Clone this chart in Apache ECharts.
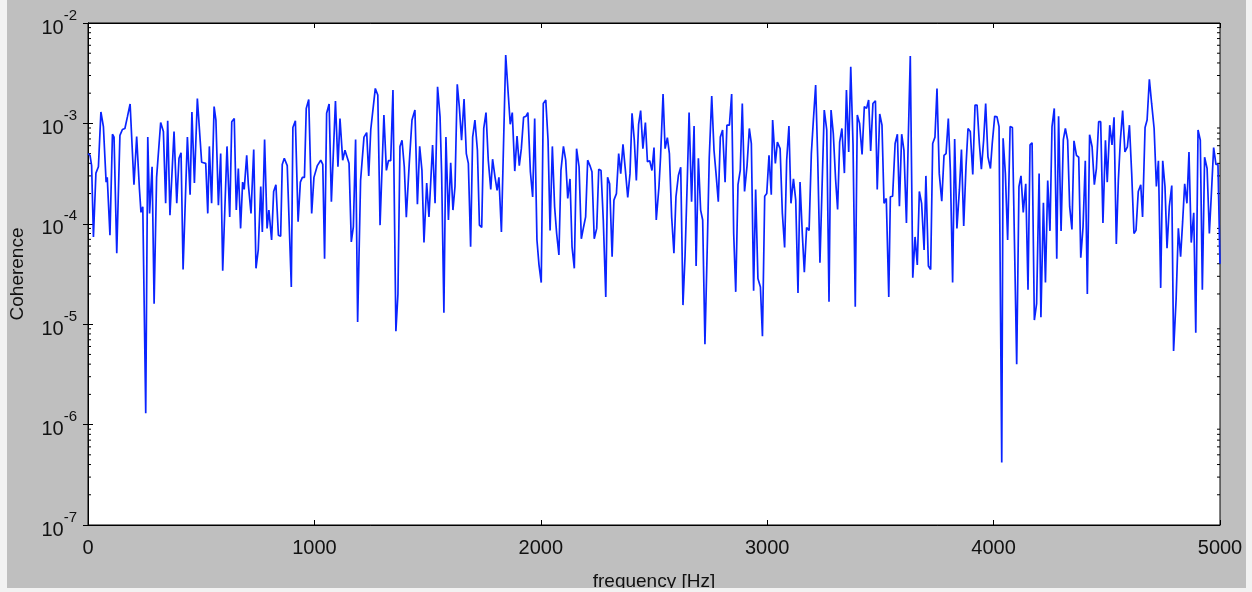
<!DOCTYPE html>
<html>
<head>
<meta charset="utf-8">
<script src="https://cdn.jsdelivr.net/npm/echarts@6/dist/echarts.min.js"></script>
<style>
  html, body { margin: 0; padding: 0; background: #ffffff; }
  #chart { width: 1252px; height: 592px; }
</style>
</head>
<body>
<div id="chart"></div>
<script>
// Coherence spectrum: frequency [Hz] and coherence value at each sample
const freq = [
  0, 9, 16, 24, 35, 46, 57, 68, 80, 85, 97, 108, 115, 127, 141, 152, 163, 174, 186, 203,
  215, 227, 234, 242, 255, 264, 272, 283, 292, 303, 321, 333, 343, 352, 362, 380, 392, 402, 411, 420,
  439, 451, 459, 470, 483,
  502, 520, 529, 536, 546, 557, 565, 576, 586, 595, 614, 626, 635, 646, 655, 664, 674, 683, 690, 701,
  708, 720, 732, 742, 752, 763, 770, 780, 791, 799, 811, 820, 830, 841, 851, 858, 867, 880, 898, 905,
  916, 928, 938, 947, 956, 964, 975,
  988, 998, 1013, 1028, 1037, 1045, 1054, 1065, 1075, 1093, 1104, 1113, 1125, 1135, 1143, 1153, 1163, 1172, 1182, 1191,
  1204, 1219, 1231, 1240, 1249, 1257, 1269, 1280, 1290, 1307, 1318, 1327, 1337, 1347, 1360, 1369, 1378, 1387, 1397, 1406,
  1419, 1431, 1444, 1455, 1465, 1475, 1484,
  1496, 1506, 1522, 1533, 1544, 1555, 1562, 1572, 1581, 1592, 1602, 1612, 1621, 1631, 1640, 1650, 1661, 1671, 1680, 1690,
  1699, 1709, 1720, 1729, 1739, 1748, 1758, 1768, 1779, 1787, 1798, 1807, 1815, 1826, 1845, 1857, 1865, 1874, 1885, 1895,
  1905, 1914, 1924, 1935, 1943, 1954, 1964, 1973, 1983, 1992, 2002,
  2011, 2022, 2032, 2041, 2051, 2061, 2070, 2080, 2089, 2100, 2110, 2119, 2129, 2138, 2148, 2158, 2169, 2179, 2189, 2198,
  2207, 2217, 2226, 2236, 2247, 2256, 2266, 2276, 2287, 2295, 2304, 2315, 2323, 2334, 2344, 2353, 2363, 2373, 2384, 2394,
  2403, 2413, 2422, 2432, 2441, 2451, 2462, 2471, 2481, 2491, 2500, 2510,
  2522, 2529, 2540, 2549, 2559, 2568, 2578, 2588, 2597, 2608, 2618, 2628, 2637, 2647, 2655, 2666, 2677, 2686, 2696, 2706,
  2715, 2725, 2736, 2744, 2755, 2765, 2774, 2784, 2793, 2803, 2814, 2822, 2833, 2843, 2852, 2861, 2871, 2881, 2890, 2900,
  2911, 2921, 2930, 2940, 2949, 2959, 2970, 2979, 2989, 2998, 3008, 3018, 3024,
  3036, 3045, 3057, 3067, 3077, 3086, 3096, 3105, 3116, 3126, 3136, 3145, 3155, 3164, 3174, 3185, 3195, 3204, 3214, 3223,
  3233, 3244, 3252, 3263, 3273, 3282, 3292, 3302, 3311, 3320, 3330, 3341, 3350, 3360, 3369, 3379, 3389, 3398, 3408, 3419,
  3429, 3439, 3448, 3457, 3467, 3478, 3486, 3497, 3507, 3516, 3526,
  3537, 3544, 3554, 3565, 3575, 3584, 3594, 3604, 3615, 3623, 3632, 3643, 3653, 3663, 3672, 3682, 3693, 3701, 3712, 3722,
  3731, 3741, 3750, 3760, 3771, 3781, 3790, 3800, 3809, 3819, 3828, 3838, 3849, 3858, 3868, 3878, 3887, 3897, 3908, 3918,
  3927, 3937, 3946, 3956, 3965, 3975, 3986, 3994, 4005, 4015, 4024, 4036,
  4042, 4052, 4062, 4073, 4083, 4092, 4102, 4112, 4121, 4131, 4142, 4152, 4161, 4170, 4180, 4190, 4201, 4209, 4220, 4229,
  4239, 4249, 4258, 4268, 4279, 4287, 4298, 4308, 4317, 4327, 4336, 4346, 4355, 4366, 4376, 4385, 4395, 4405, 4414, 4424,
  4435, 4445, 4454, 4464, 4473, 4483, 4494, 4502, 4513, 4523, 4532, 4542,
  4551, 4560, 4570, 4580, 4591, 4600, 4610, 4620, 4629, 4639, 4650, 4658, 4669, 4678, 4688, 4698, 4709, 4719, 4728, 4738,
  4747, 4757, 4766, 4776, 4787, 4795, 4806, 4816, 4826, 4835, 4844, 4854, 4863, 4873, 4884, 4893, 4903, 4913, 4922, 4932,
  4943, 4953, 4962, 4972, 4982, 4991, 5000
];

const coherence = [
  5.0e-4, 4.8e-4, 3.8e-4, 7.4e-5, 3.2e-4, 3.7e-4, 1.3e-3, 9.3e-4, 2.6e-4, 2.9e-4, 7.7e-5, 7.8e-4, 7.3e-4, 5.1e-5, 7.6e-4, 8.7e-4, 8.9e-4, 1.16e-3, 1.56e-3, 2.45e-4,
  7.4e-4, 2.25e-4, 1.3e-4, 1.48e-4, 1.3e-6, 7.3e-4, 1.27e-4, 3.7e-4, 1.6e-5, 2.9e-4, 1.02e-3, 8.3e-4, 1.6e-4, 1.06e-3, 1.22e-4, 8.3e-4, 1.6e-4, 4.5e-4, 5.1e-4, 3.5e-5,
  7.3e-4, 1.95e-4, 1.3e-3, 2.55e-4, 1.77e-3,
  4.1e-4, 4.0e-4, 1.27e-4, 5.9e-4, 1.6e-4, 1.47e-3, 1.08e-3, 1.53e-4, 5.0e-4, 3.4e-5, 5.9e-4, 1.17e-4, 1.04e-3, 1.12e-3, 1.37e-4, 3.55e-4, 9.0e-5, 2.6e-4, 2.2e-4, 4.8e-4,
  2.5e-4, 1.27e-4, 5.5e-4, 3.6e-5, 5.5e-5, 2.35e-4, 8.3e-5, 6.9e-4, 9.0e-5, 1.37e-4, 6.9e-5, 2.1e-4, 2.45e-4, 7.7e-5, 7.5e-5, 3.9e-4, 4.5e-4, 3.8e-4, 2.35e-5, 9.1e-4,
  1.06e-3, 1.05e-4, 2.6e-4, 2.9e-4, 2.9e-4, 1.41e-3, 1.73e-3,
  1.27e-4, 2.9e-4, 3.8e-4, 4.3e-4, 3.9e-4, 4.5e-5, 1.26e-3, 1.56e-3, 1.66e-4, 1.67e-3, 3.7e-4, 1.12e-3, 4.3e-4, 5.4e-4, 5.5e-4, 4.0e-4, 6.6e-5, 9.3e-5, 6.9e-4, 1.05e-5,
  2.7e-4, 7.3e-4, 8.1e-4, 3.0e-4, 8.7e-4, 8.9e-4, 2.23e-3, 1.92e-3, 9.7e-5, 1.21e-3, 3.4e-4, 4.25e-4, 4.25e-4, 2.15e-3, 8.5e-6, 2.0e-5, 5.9e-4, 6.8e-4, 3.7e-4, 1.16e-4,
  4.0e-4, 1.08e-3, 1.36e-3, 1.57e-4, 5.9e-4, 3.4e-4, 6.5e-5,
  2.55e-4, 1.17e-4, 6.1e-4, 1.6e-4, 2.32e-3, 1.16e-3, 3.16e-4, 1.3e-5, 7.3e-4, 1.09e-4, 4.05e-4, 1.37e-4, 2.35e-4, 2.45e-3, 1.47e-3, 6.8e-4, 1.75e-3, 5.0e-4, 4.0e-4, 5.9e-5,
  7.3e-4, 1.08e-3, 5.4e-4, 9.7e-5, 9.2e-5, 8.9e-4, 1.28e-3, 4.3e-4, 2.2e-4, 4.4e-4, 2.9e-4, 2.15e-4, 2.9e-4, 8.3e-5, 4.8e-3, 1.84e-3, 9.8e-4, 1.28e-3, 3.35e-4, 7.5e-4,
  3.8e-4, 5.6e-4, 1.15e-3, 1.18e-3, 1.28e-3, 3.3e-4, 1.85e-4, 1.12e-3, 6.9e-5, 3.9e-5, 2.6e-5,
  1.58e-3, 1.71e-3, 6.8e-4, 8.6e-5, 5.9e-4, 1.48e-4, 8.0e-5, 4.9e-5, 3.4e-4, 5.9e-4, 4.3e-4, 1.79e-4, 2.8e-4, 5.9e-5, 3.6e-5, 5.6e-4, 3.7e-4, 7.1e-5, 9.3e-5, 1.17e-4,
  4.3e-4, 3.8e-4, 3.3e-4, 7.1e-5, 9.0e-5, 3.5e-4, 3.4e-4, 1.09e-4, 1.87e-5, 2.9e-4, 2.5e-4, 4.7e-5, 1.72e-4, 2.0e-4, 5.0e-4, 3.16e-4, 6.2e-4, 3.55e-4, 1.83e-4, 3.16e-4,
  1.26e-3, 6.8e-4, 2.7e-4, 9.8e-4, 1.34e-3, 5.6e-4, 1.02e-3, 4.15e-4, 4.25e-4, 3.4e-4, 5.75e-4, 1.09e-4,
  2.35e-4, 4.65e-4, 1.96e-3, 5.6e-4, 7.2e-4, 5.0e-4, 1.17e-4, 5.1e-5, 1.86e-4, 3.05e-4, 3.65e-4, 1.55e-5, 4.7e-5, 2.7e-4, 1.28e-3, 1.66e-4, 9.4e-4, 3.8e-5, 4.5e-4, 1.37e-4,
  1.09e-4, 6.3e-6, 6.9e-5, 4.5e-4, 1.87e-3, 5.4e-4, 3.16e-4, 1.66e-4, 7.3e-4, 8.6e-4, 2.6e-4, 9.6e-4, 9.6e-4, 1.96e-3, 8.0e-5, 2.1e-5, 2.45e-4, 3.4e-4, 1.58e-3, 2.1e-4,
  3.8e-4, 8.9e-4, 6.3e-4, 2.15e-5, 2.2e-4, 2.85e-5, 2.35e-5, 7.6e-6, 1.88e-4, 2.0e-4, 4.8e-4, 1.95e-4, 1.08e-3,
  4.0e-4, 6.5e-4, 5.6e-4, 1.27e-4, 5.8e-5, 4.3e-4, 9.4e-4, 1.6e-4, 2.8e-4, 1.72e-4, 2.05e-5, 2.6e-4, 8.0e-5, 3.3e-5, 9.2e-5, 8.6e-5, 5.0e-4, 1.08e-3, 2.41e-3, 4.65e-4,
  4.1e-5, 3.16e-4, 1.36e-3, 8.6e-4, 1.67e-5, 1.36e-3, 7.9e-4, 2.8e-4, 1.39e-4, 6.5e-4, 8.9e-4, 3.2e-4, 2.15e-3, 5.2e-4, 3.67e-3, 6.3e-4, 1.49e-5, 1.21e-3, 1.0e-3, 4.9e-4,
  1.47e-3, 1.41e-3, 1.71e-3, 5.3e-4, 1.58e-3, 1.68e-3, 2.2e-4, 1.24e-3, 9.6e-4, 1.6e-4, 1.79e-4,
  1.87e-5, 1.86e-4, 1.88e-4, 6.3e-4, 7.8e-4, 1.5e-4, 7.8e-4, 5.4e-4, 1.02e-4, 6.8e-4, 4.7e-3, 2.9e-5, 7.4e-5, 3.9e-5, 2.1e-4, 1.6e-4, 5.5e-5, 3.0e-4, 3.8e-5, 3.5e-5,
  6.3e-4, 7.3e-4, 2.23e-3, 3.16e-4, 1.68e-4, 4.8e-4, 5.0e-4, 1.12e-3, 3.4e-4, 2.6e-5, 7.0e-4, 9.0e-5, 2.2e-4, 5.5e-4, 9.5e-5, 3.7e-4, 8.9e-4, 8.3e-4, 3.1e-4, 1.52e-3,
  1.52e-3, 6.3e-4, 3.5e-4, 6.8e-4, 1.58e-3, 4.65e-4, 3.55e-4, 6.3e-4, 1.18e-3, 1.16e-3, 9.3e-4, 4.2e-7,
  7.1e-4, 3.16e-4, 6.9e-5, 9.3e-4, 9.1e-4, 6.9e-5, 4.0e-6, 2.35e-4, 3.0e-4, 1.3e-4, 2.5e-4, 2.2e-5, 6.1e-4, 6.4e-4, 1.1e-5, 1.6e-5, 3.16e-4, 1.17e-5, 1.62e-4, 2.6e-5,
  2.7e-4, 8.5e-5, 9.3e-4, 1.41e-3, 4.5e-5, 1.18e-3, 8.5e-5, 6.9e-4, 8.9e-4, 6.8e-4, 1.48e-4, 8.8e-5, 6.7e-4, 4.8e-4, 4.6e-4, 4.6e-5, 9.3e-5, 4.25e-4, 2.0e-5, 7.7e-4,
  5.85e-4, 2.45e-4, 3.55e-4, 1.04e-3, 1.04e-3, 1.02e-4, 6.8e-4, 2.6e-4, 9.6e-4, 6.1e-4, 1.15e-3, 6.3e-5,
  2.7e-4, 6.8e-4, 1.34e-3, 5.2e-4, 5.85e-4, 9.6e-4, 3.16e-4, 8.0e-5, 8.6e-5, 2.1e-4, 2.45e-4, 1.17e-4, 9.1e-4, 1.08e-3, 2.75e-3, 1.58e-3, 8.9e-4, 2.35e-4, 4.25e-4, 2.3e-5,
  4.25e-4, 2.35e-4, 5.7e-5, 1.48e-4, 2.4e-4, 5.4e-6, 1.74e-5, 9.0e-5, 4.7e-5, 1.05e-4, 2.5e-4, 1.6e-4, 5.2e-4, 6.5e-5, 1.29e-4, 8.2e-6, 8.6e-4, 6.8e-4, 2.2e-5, 4.6e-4,
  3.55e-4, 8.0e-5, 2.0e-4, 5.75e-4, 3.9e-4, 3.9e-4, 4.0e-5
];

// Axis ranges and decade marks
const xMin = 0, xMax = 5000, xStep = 1000;
const yMin = 1e-7, yMax = 1e-2;
const minorMultipliers = [2, 3, 4, 5, 6, 7, 8, 9];
const decadeBases = [1e-7, 1e-6, 1e-5, 1e-4, 1e-3];

const minorTicks = [];
decadeBases.forEach(b => minorMultipliers.forEach(m => minorTicks.push([xMin, m * b])));

const FONT = '"Liberation Sans", Arial, Helvetica, sans-serif';
const TEXT = '#111';
const FIGURE_BG = '#bfbfbf';
const PAGE_EDGE = '#f2f2f2';

const chart = echarts.init(document.getElementById('chart'), null, { renderer: 'canvas' });

const supLabel = v => {
  const e = Math.round(Math.log10(v));
  return '{b|10}{s|' + e + '}';
};

chart.setOption({
  backgroundColor: FIGURE_BG,
  animation: false,
  // thin light margins around the grey figure canvas
  graphic: [
    { type: 'rect', left: 0, top: 0, shape: { width: 7, height: 592 }, style: { fill: PAGE_EDGE }, z: 100, silent: true },
    { type: 'rect', right: 0, top: 0, shape: { width: 6, height: 592 }, style: { fill: PAGE_EDGE }, z: 100, silent: true },
    { type: 'rect', left: 0, bottom: 0, shape: { width: 1252, height: 4 }, style: { fill: PAGE_EDGE }, z: 100, silent: true }
  ],
  grid: {
    left: 88, right: 32, top: 23, bottom: 67,
    outerBoundsMode: 'none', containLabel: false,
    show: true, backgroundColor: '#ffffff', borderColor: '#000', borderWidth: 1
  },
  xAxis: [
    {
      type: 'value', min: xMin, max: xMax, interval: xStep, position: 'bottom',
      name: 'frequency [Hz]', nameLocation: 'middle', nameGap: 47,
      nameTextStyle: { fontFamily: FONT, fontSize: 19, color: TEXT },
      axisLine: { show: true, lineStyle: { color: '#000', width: 1 } },
      axisTick: { show: true, inside: true, length: 5, lineStyle: { color: '#000' } },
      axisLabel: { fontFamily: FONT, fontSize: 20, color: TEXT, margin: 13, formatter: v => String(v) },
      splitLine: { show: false }
    },
    {
      type: 'value', min: xMin, max: xMax, interval: xStep, position: 'top',
      axisLine: { show: true, lineStyle: { color: '#000', width: 1 } },
      axisTick: { show: true, inside: true, length: 5, lineStyle: { color: '#000' } },
      axisLabel: { show: false },
      splitLine: { show: false }
    }
  ],
  yAxis: [
    {
      type: 'log', logBase: 10, min: yMin, max: yMax, position: 'left',
      name: 'Coherence', nameLocation: 'middle', nameGap: 61, nameRotate: 90,
      nameTextStyle: { fontFamily: FONT, fontSize: 19, color: TEXT },
      axisLine: { show: true, lineStyle: { color: '#000', width: 1 } },
      axisTick: { show: true, inside: true, length: 5, lineStyle: { color: '#000' } },
      axisLabel: {
        margin: 11,
        formatter: supLabel,
        rich: {
          b: { fontFamily: FONT, fontSize: 20, color: TEXT, lineHeight: 30, verticalAlign: 'bottom' },
          s: { fontFamily: FONT, fontSize: 15, color: TEXT, lineHeight: 30, verticalAlign: 'top' }
        }
      },
      splitLine: { show: false }
    },
    {
      type: 'log', logBase: 10, min: yMin, max: yMax, position: 'right',
      axisLine: { show: true, lineStyle: { color: '#000', width: 1 } },
      axisTick: { show: true, inside: true, length: 5, lineStyle: { color: '#000' } },
      axisLabel: { show: false },
      splitLine: { show: false }
    }
  ],
  series: [
    {
      // minor ticks of the log axis at 2..9 times each decade, on both sides
      type: 'custom',
      silent: true,
      xAxisIndex: 0, yAxisIndex: 0,
      data: minorTicks,
      encode: { x: 0, y: 1 },
      renderItem: (params, api) => {
        const y = api.coord([xMin, api.value(1)])[1];
        const xl = api.coord([xMin, api.value(1)])[0];
        const xr = api.coord([xMax, api.value(1)])[0];
        const style = { stroke: '#000', lineWidth: 1 };
        return {
          type: 'group',
          children: [
            { type: 'line', shape: { x1: xl, y1: y, x2: xl + 3, y2: y }, style },
            { type: 'line', shape: { x1: xr - 3, y1: y, x2: xr, y2: y }, style }
          ]
        };
      },
      z: 3
    },
    {
      type: 'line',
      xAxisIndex: 0, yAxisIndex: 0,
      data: freq.map((f, i) => [f, coherence[i]]),
      showSymbol: false,
      symbol: 'none',
      lineStyle: { color: '#0a24ff', width: 1.7 },
      z: 4
    }
  ]
});
</script>
</body>
</html>
